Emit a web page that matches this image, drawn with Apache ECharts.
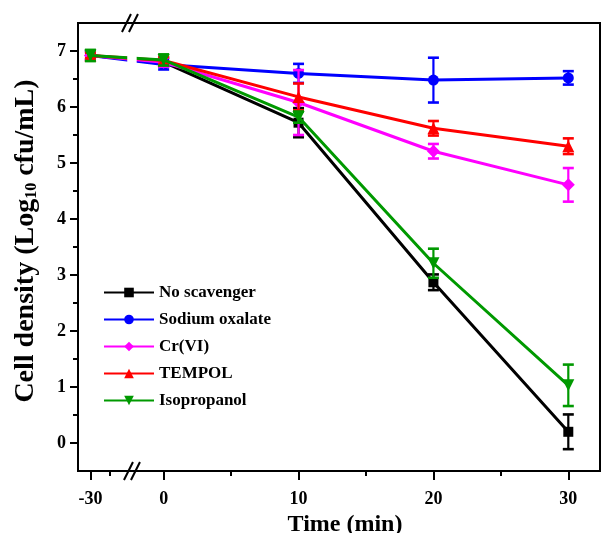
<!DOCTYPE html>
<html>
<head>
<meta charset="utf-8">
<script src="https://cdn.jsdelivr.net/npm/echarts@6/dist/echarts.min.js"></script>
<style>
  html, body { margin: 0; padding: 0; background: #fff; }
  #chart { width: 602px; height: 533px; }
</style>
</head>
<body>
<div id="chart"></div>
<script>
// Sampling times (min); -30 is the baseline before treatment starts
const times = [-30, 0, 10, 20, 30];
const xTickLabels = ['-30', '0', '10', '20', '30'];
const xMinorTimes = [-25, 5, 15, 25];
const yTicks = [0, 1, 2, 3, 4, 5, 6, 7];
const yMinorTicks = [0.5, 1.5, 2.5, 3.5, 4.5, 5.5, 6.5];

// Cell density, log10 cfu/mL, mean and standard deviation
const seriesNames = ['No scavenger', 'Sodium oxalate', 'Cr(VI)', 'TEMPOL', 'Isopropanol'];
const noScavenger      = [6.92, 6.80, 5.72, 2.87, 0.20];
const noScavengerErr   = [0.07, 0.08, 0.26, 0.14, 0.31];
const sodiumOxalate    = [6.92, 6.76, 6.60, 6.48, 6.52];
const sodiumOxalateErr = [0.08, 0.09, 0.17, 0.40, 0.12];
const crVI             = [6.92, 6.80, 6.08, 5.21, 4.61];
const crVIErr          = [0.07, 0.08, 0.58, 0.13, 0.30];
const tempol           = [6.92, 6.83, 6.18, 5.62, 5.30];
const tempolErr        = [0.05, 0.06, 0.24, 0.13, 0.14];
const isopropanol      = [6.92, 6.84, 5.82, 3.21, 1.03];
const isopropanolErr   = [0.10, 0.10, 0.10, 0.26, 0.37];

const FONT = '"Liberation Serif", "Times New Roman", serif';

// Broken time axis: the stretch before t = 0 is compressed to the left of the break mark.
const PRE_ORIGIN = -5.43, PRE_SCALE = 0.286;
const BREAK_AT = -2.35, GAP_FROM = -2.7, GAP_TO = -2.0;
const axisPos = t => (t < 0 ? PRE_ORIGIN + (t + 30) * PRE_SCALE : t);
const xMajorPos = times.map(axisPos);
const xMinorPos = xMinorTimes.map(axisPos);
const X_MIN = -6.35, X_MAX = 32.35;

const styles = [
  { color: '#000000', symbol: 'rect', size: 10, rotate: 0 },
  { color: '#0000ff', symbol: 'circle', size: 11, rotate: 0 },
  { color: '#ff00ff', symbol: 'diamond', size: 13, rotate: 0 },
  { color: '#ff0000', symbol: 'triangle', size: 12, rotate: 0 },
  { color: '#009900', symbol: 'triangle', size: 12, rotate: 180 }
];
const means = [noScavenger, sodiumOxalate, crVI, tempol, isopropanol];
const errs = [noScavengerErr, sodiumOxalateErr, crVIErr, tempolErr, isopropanolErr];

function lineSeries(i) {
  const s = styles[i];
  return {
    name: seriesNames[i],
    type: 'line',
    data: times.map((t, k) => [axisPos(t), means[i][k]]),
    color: s.color,
    symbol: s.symbol,
    symbolSize: s.size,
    symbolRotate: s.rotate,
    showAllSymbol: true,
    lineStyle: { width: 3, color: s.color },
    itemStyle: { color: s.color },
    animation: false,
    z: 2 + i * 2
  };
}

function errorSeries(i) {
  const color = styles[i].color;
  return {
    name: seriesNames[i] + ' sd',
    type: 'custom',
    data: times.map((t, k) => [axisPos(t), means[i][k] - errs[i][k], means[i][k] + errs[i][k]]),
    encode: { x: 0, y: [1, 2] },
    renderItem: (params, api) => {
      const x = api.value(0);
      const lo = api.coord([x, api.value(1)]);
      const hi = api.coord([x, api.value(2)]);
      const hw = 5.5;
      const cap = { stroke: color, lineWidth: 2.6 };
      return {
        type: 'group',
        children: [
          { type: 'line', shape: { x1: lo[0], y1: lo[1], x2: hi[0], y2: hi[1] }, style: { stroke: color, lineWidth: 2.2 } },
          { type: 'line', shape: { x1: lo[0] - hw, y1: lo[1], x2: lo[0] + hw, y2: lo[1] }, style: cap },
          { type: 'line', shape: { x1: hi[0] - hw, y1: hi[1], x2: hi[0] + hw, y2: hi[1] }, style: cap }
        ]
      };
    },
    animation: false,
    z: 3 + i * 2
  };
}

const series = [];
for (let i = 0; i < seriesNames.length; i++) {
  series.push(lineSeries(i), errorSeries(i));
}

const gridBox = { left: 78, right: 2, top: 23, bottom: 62, outerBoundsMode: 'none', containLabel: false };
const labelStyle = { fontFamily: FONT, fontWeight: 'bold', fontSize: 18, color: '#000' };

const chart = echarts.init(document.getElementById('chart'), null, { renderer: 'canvas' });
chart.setOption({
  animation: false,
  backgroundColor: '#fff',
  grid: [
    Object.assign({ show: true, borderColor: '#000', borderWidth: 2, backgroundColor: 'transparent' }, gridBox),
    Object.assign({}, gridBox)
  ],
  legend: {
    data: seriesNames,
    orient: 'vertical',
    left: 103,
    top: 284,
    padding: 0,
    itemWidth: 50,
    itemHeight: 12,
    itemGap: 10,
    textStyle: { fontFamily: FONT, fontWeight: 'bold', fontSize: 17, color: '#000', lineHeight: 16 }
  },
  xAxis: [
    {
      type: 'value', gridIndex: 0, position: 'bottom',
      min: X_MIN, max: X_MAX,
      name: 'Time (min)', nameLocation: 'middle', nameGap: 40,
      nameTextStyle: { fontFamily: FONT, fontWeight: 'bold', fontSize: 24, color: '#000', padding: [0, 0, 0, 12] },
      axisLine: { onZero: false, lineStyle: { color: '#000', width: 2 } },
      axisTick: { show: true, inside: false, length: 9, customValues: xMajorPos, lineStyle: { color: '#000', width: 2 } },
      axisLabel: Object.assign({
        margin: 19,
        customValues: xMajorPos,
        formatter: v => {
          const k = xMajorPos.findIndex(p => Math.abs(p - v) < 1e-6);
          return k >= 0 ? xTickLabels[k] : '';
        }
      }, labelStyle),
      splitLine: { show: false }
    },
    {
      type: 'value', gridIndex: 1, position: 'bottom',
      min: X_MIN, max: X_MAX,
      axisLine: { show: false, onZero: false },
      axisTick: { show: true, inside: false, length: 5, customValues: xMinorPos, lineStyle: { color: '#000', width: 2 } },
      axisLabel: { show: false },
      splitLine: { show: false }
    }
  ],
  yAxis: [
    {
      type: 'value', gridIndex: 0, position: 'left',
      min: -0.5, max: 7.5,
      name: '{a|Cell density (Log}{s|10}{a| cfu/mL)}',
      nameLocation: 'middle', nameGap: 38, nameRotate: 90,
      nameTextStyle: {
        padding: [0, 0, 0, 12],
        rich: {
          a: { fontFamily: FONT, fontWeight: 'bold', fontSize: 28, color: '#000' },
          s: { fontFamily: FONT, fontWeight: 'bold', fontSize: 16, color: '#000', verticalAlign: 'bottom', padding: [11, 0, 0, 0] }
        }
      },
      axisLine: { onZero: false, lineStyle: { color: '#000', width: 2 } },
      axisTick: { show: true, inside: false, length: 8, customValues: yTicks, lineStyle: { color: '#000', width: 2 } },
      axisLabel: Object.assign({ margin: 12, customValues: yTicks }, labelStyle),
      splitLine: { show: false }
    },
    {
      type: 'value', gridIndex: 1, position: 'left',
      min: -0.5, max: 7.5,
      axisLine: { show: false, onZero: false },
      axisTick: { show: true, inside: false, length: 5, customValues: yMinorTicks, lineStyle: { color: '#000', width: 2 } },
      axisLabel: { show: false },
      splitLine: { show: false }
    }
  ],
  series: series.map(s => Object.assign(s, { xAxisIndex: 0, yAxisIndex: 0 }))
});

// Break marks on the time axis and the gap they leave in the curves
function drawBreak() {
  const toX = v => chart.convertToPixel({ xAxisIndex: 0 }, v);
  const toY = v => chart.convertToPixel({ yAxisIndex: 0 }, v);
  const top = toY(7.5), bottom = toY(-0.5);
  const bx = toX(BREAK_AT);
  const slash = (cx, cy) => [-3.5, 3.5].map(dx => ({
    type: 'line', z: 100,
    shape: { x1: cx + dx - 4.5, y1: cy + 9, x2: cx + dx + 4.5, y2: cy - 9 },
    style: { stroke: '#000', lineWidth: 2 }
  }));
  const gx0 = toX(GAP_FROM), gx1 = toX(GAP_TO);
  chart.setOption({
    graphic: [
      { type: 'rect', z: 99, shape: { x: gx0, y: toY(7.3), width: gx1 - gx0, height: toY(6.3) - toY(7.3) }, style: { fill: '#fff' } }
    ].concat(slash(bx - 2, top), slash(bx, bottom))
  });
}
drawBreak();
</script>
</body>
</html>
